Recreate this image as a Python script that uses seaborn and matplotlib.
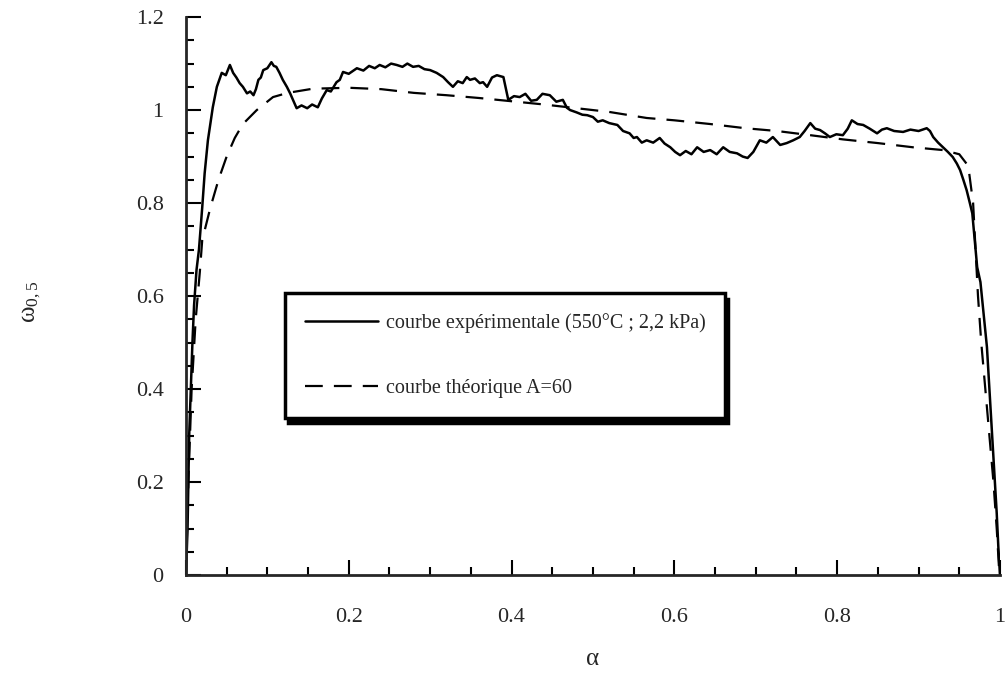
import numpy as np
import pandas as pd
import matplotlib
matplotlib.use("Agg")
import matplotlib.pyplot as plt
from matplotlib.ticker import MultipleLocator
import seaborn as sns

exp_alpha = [0.000, 0.002, 0.003, 0.004, 0.006, 0.008, 0.010, 0.013, 0.016, 0.020,
             0.023, 0.027, 0.033, 0.038, 0.044, 0.049, 0.054, 0.058, 0.062, 0.066,
             0.070, 0.075, 0.079, 0.083, 0.086, 0.089, 0.092, 0.095, 0.100, 0.105,
             0.108, 0.111, 0.115, 0.119, 0.124, 0.128, 0.132, 0.136, 0.142, 0.149,
             0.155, 0.162, 0.167, 0.173, 0.178, 0.185, 0.189, 0.193, 0.200, 0.210,
             0.218, 0.225, 0.232, 0.238, 0.245, 0.252, 0.259, 0.266, 0.272, 0.279,
             0.286, 0.293, 0.300, 0.308, 0.316, 0.322, 0.328, 0.334, 0.340, 0.345,
             0.349, 0.355, 0.361, 0.365, 0.370, 0.376, 0.382, 0.390, 0.396, 0.403,
             0.410, 0.417, 0.424, 0.431, 0.438, 0.447, 0.455, 0.463, 0.468, 0.472,
             0.480, 0.487, 0.493, 0.500, 0.506, 0.512, 0.520, 0.530, 0.537, 0.545,
             0.550, 0.554, 0.560, 0.566, 0.574, 0.582, 0.588, 0.595, 0.601, 0.607,
             0.614, 0.621, 0.628, 0.636, 0.644, 0.652, 0.660, 0.668, 0.677, 0.684,
             0.690, 0.697, 0.705, 0.713, 0.721, 0.730, 0.738, 0.746, 0.754, 0.760,
             0.767, 0.773, 0.779, 0.785, 0.791, 0.799, 0.807, 0.813, 0.818, 0.825,
             0.832, 0.840, 0.849, 0.855, 0.861, 0.870, 0.881, 0.890, 0.900, 0.910,
             0.914, 0.918, 0.924, 0.930, 0.936, 0.942, 0.947, 0.951, 0.955, 0.959,
             0.963, 0.966, 0.969, 0.972, 0.976, 0.980, 0.984, 0.987, 0.990, 0.993,
             0.996, 0.998, 1.000]
exp_omega = [0.00, 0.10, 0.20, 0.30, 0.40, 0.50, 0.58, 0.656, 0.70, 0.79,
             0.864, 0.935, 1.006, 1.05, 1.08, 1.075, 1.097, 1.08, 1.07, 1.058,
             1.05, 1.036, 1.04, 1.032, 1.045, 1.065, 1.07, 1.086, 1.09, 1.103,
             1.095, 1.093, 1.08, 1.065, 1.05, 1.036, 1.02, 1.004, 1.01, 1.004,
             1.012, 1.006, 1.025, 1.043, 1.04, 1.06, 1.065, 1.082, 1.078, 1.09,
             1.085, 1.095, 1.09, 1.097, 1.092, 1.10, 1.097, 1.093, 1.10, 1.093,
             1.095, 1.088, 1.086, 1.08, 1.071, 1.06, 1.05, 1.062, 1.058, 1.071,
             1.065, 1.068, 1.058, 1.06, 1.05, 1.07, 1.075, 1.071, 1.022, 1.03,
             1.028, 1.035, 1.02, 1.022, 1.035, 1.032, 1.018, 1.022, 1.005, 1.0,
             0.995, 0.99, 0.989, 0.985, 0.975, 0.978, 0.972, 0.968, 0.955, 0.95,
             0.94, 0.942, 0.930, 0.935, 0.93, 0.94, 0.928, 0.92, 0.91, 0.903,
             0.912, 0.905, 0.92, 0.91, 0.914, 0.905, 0.92, 0.91, 0.907, 0.90,
             0.897, 0.91, 0.935, 0.93, 0.942, 0.925, 0.929, 0.935, 0.942, 0.955,
             0.972, 0.96, 0.957, 0.95, 0.942, 0.948, 0.946, 0.96, 0.978, 0.97,
             0.968, 0.96, 0.95, 0.958, 0.961, 0.955, 0.953, 0.958, 0.955, 0.961,
             0.955, 0.942, 0.93, 0.92, 0.91, 0.899, 0.885, 0.871, 0.85, 0.828,
             0.80, 0.778, 0.72, 0.662, 0.63, 0.56, 0.49, 0.40, 0.312, 0.22,
             0.133, 0.06, 0.00]

# theoretical curve A=60
th_alpha = [0.000, 0.003, 0.007, 0.012, 0.017, 0.020, 0.030, 0.040, 0.050, 0.060,
            0.070, 0.087, 0.107, 0.125, 0.156, 0.200, 0.240, 0.280, 0.320, 0.360,
            0.400, 0.440, 0.480, 0.520, 0.566, 0.600, 0.644, 0.687, 0.726, 0.767,
            0.807, 0.850, 0.893, 0.930, 0.950, 0.961, 0.967, 0.973, 0.977, 0.982,
            0.987, 0.992, 0.996, 0.999]
th_omega = [0.00, 0.20, 0.40, 0.55, 0.65, 0.72, 0.79, 0.85, 0.90, 0.94,
            0.97, 1.00, 1.028, 1.037, 1.046, 1.048, 1.045, 1.037, 1.032, 1.026,
            1.019, 1.012, 1.004, 0.996, 0.983, 0.978, 0.97, 0.961, 0.955, 0.946,
            0.937, 0.929, 0.92, 0.914, 0.905, 0.88, 0.80, 0.60, 0.50, 0.40,
            0.30, 0.20, 0.10, 0.01]

x_ticks = [0, 0.2, 0.4, 0.6, 0.8, 1.0]
x_ticklabels = ["0", "0.2", "0.4", "0.6", "0.8", "1"]
y_ticks = [0, 0.2, 0.4, 0.6, 0.8, 1.0, 1.2]
y_ticklabels = ["0", "0.2", "0.4", "0.6", "0.8", "1", "1.2"]

exp_label = "courbe expérimentale (550°C ; 2,2 kPa)"
th_label = "courbe théorique A=60"

sns.set_style("ticks")
plt.rcParams["font.family"] = ["Liberation Serif", "DejaVu Serif"]
plt.rcParams["mathtext.fontset"] = "stix"

fig = plt.figure(figsize=(10.05, 6.73), dpi=100)
ax = fig.add_axes([0.185, 0.1456, 0.81, 0.829])

exp_df = pd.DataFrame({"alpha": exp_alpha, "omega": exp_omega})
th_df = pd.DataFrame({"alpha": th_alpha, "omega": th_omega})

sns.lineplot(data=exp_df, x="alpha", y="omega", color="black", linewidth=1.8,
             sort=False, label=exp_label, ax=ax)
sns.lineplot(data=th_df, x="alpha", y="omega", color="black", linewidth=1.6,
             sort=False, label=th_label, ax=ax)
ax.lines[1].set_dashes([8, 5])

ax.set_xlim(0, 1)
ax.set_ylim(0, 1.2)
ax.set_xticks(x_ticks)
ax.set_xticklabels(x_ticklabels)
ax.set_yticks(y_ticks)
ax.set_yticklabels(y_ticklabels)
ax.xaxis.set_minor_locator(MultipleLocator(0.05))
ax.yaxis.set_minor_locator(MultipleLocator(0.05))

sns.despine(ax=ax)
for side in ["left", "bottom"]:
    ax.spines[side].set_linewidth(2)
ax.tick_params(which="major", direction="in", length=11, width=1.5, labelsize=16, color="black")
ax.tick_params(which="minor", direction="in", length=6, width=1.5, color="black")
ax.tick_params(axis="x", which="major", pad=24)
ax.tick_params(axis="y", which="major", pad=16)

ax.set_xlabel("α", fontsize=18)
ax.xaxis.set_label_coords(0.5, -0.13)
ax.set_ylabel(r"$\mathregular{ω_{0,5}}$", fontsize=18)
ax.yaxis.set_label_coords(-0.175, 0.49)

leg = ax.legend(loc="upper left", bbox_to_anchor=(0.1216, 0.505), borderaxespad=0,
                fontsize=14.5, handlelength=3.6, handletextpad=0.4, labelspacing=2.25,
                borderpad=1.0, fancybox=False, frameon=True,
                shadow={"color": "black", "alpha": 1, "ox": 2, "oy": -4})
leg.get_frame().set_edgecolor("black")
leg.get_frame().set_linewidth(2.5)
leg.get_frame().set_alpha(1)

fig.savefig("out.png", dpi=100)
